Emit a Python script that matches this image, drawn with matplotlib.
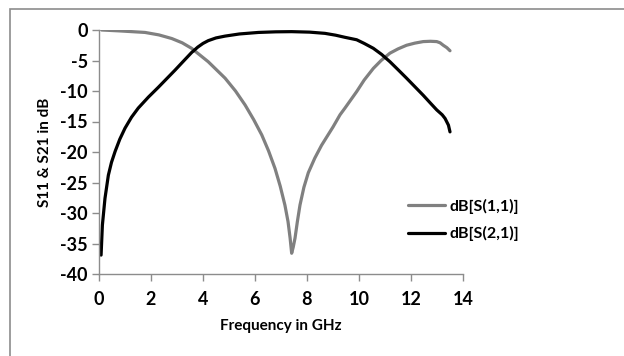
import matplotlib
matplotlib.use("Agg")
import matplotlib.pyplot as plt
from matplotlib.patches import Rectangle

# S11 (gray)
s11_freq = [0.1, 0.8, 1.77, 2.3, 2.8, 3.2, 3.56, 4.2, 4.85, 5.25, 5.62, 5.95, 6.26, 6.52, 6.77, 6.97, 7.15, 7.27, 7.35, 7.41,
            7.47, 7.54, 7.63, 7.73, 7.88, 8.05, 8.3, 8.56, 9.0, 9.27, 9.46, 9.91, 10.2, 10.55, 10.85, 11.19, 11.5, 11.83,
            12.15, 12.47, 12.75, 12.99, 13.12, 13.24, 13.38, 13.5]
s11_db = [0.0, -0.15, -0.4, -0.8, -1.4, -2.1, -3.0, -5.2, -7.9, -10.0, -12.3, -14.7, -17.2, -19.8, -22.7, -25.6, -28.7, -31.4, -34.1, -36.6,
          -35.6, -34.1, -31.4, -28.7, -25.8, -23.4, -21.0, -18.9, -15.9, -13.9, -12.8, -10.1, -8.2, -6.3, -5.0, -3.8, -3.1, -2.5,
          -2.15, -1.9, -1.85, -1.9, -2.1, -2.5, -2.9, -3.4]

# S21 (black)
s21_freq = [0.08, 0.13, 0.23, 0.36, 0.48, 0.62, 0.8, 1.0, 1.25, 1.51, 1.9, 2.28, 2.6, 2.92, 3.25, 3.56, 3.8, 4.0, 4.2, 4.5,
            4.85, 5.4, 6.13, 6.8, 7.41, 8.1, 8.69, 9.1, 9.46, 9.91, 10.2, 10.55, 10.87, 11.19, 11.5, 11.83, 12.15, 12.47,
            12.75, 12.99, 13.2, 13.31, 13.44, 13.5]
s21_db = [-36.9, -32.0, -27.6, -23.8, -21.7, -19.9, -17.9, -16.1, -14.3, -12.8, -11.0, -9.4, -8.0, -6.6, -5.1, -3.7, -2.8, -2.2, -1.75, -1.3,
          -1.0, -0.65, -0.4, -0.3, -0.27, -0.35, -0.55, -0.85, -1.2, -1.6, -2.2, -3.0, -4.0, -5.2, -6.5, -7.9, -9.3, -10.7,
          -12.0, -13.1, -13.9, -14.5, -15.6, -16.7]

x_ticks = [0, 2, 4, 6, 8, 10, 12, 14]
y_ticks = [0, -5, -10, -15, -20, -25, -30, -35, -40]

plt.rcParams['font.family'] = ['Lato', 'DejaVu Sans']
plt.rcParams['font.weight'] = 'bold'
plt.rcParams['axes.unicode_minus'] = False

fig = plt.figure(figsize=(6.24, 3.56), dpi=100)
fig.patches.append(Rectangle((10 / 624, -0.1), 1.2, 1 - 9 / 356 + 0.1, transform=fig.transFigure,
                             fill=False, edgecolor='#8c8c8c', linewidth=1.2))

ax = fig.add_axes([99 / 624, 1 - 274 / 356, (463 - 99) / 624, (274 - 30) / 356])
ax.plot(s11_freq, s11_db, color='#808080', linewidth=2.3, label='dB[S(1,1)]',
        solid_capstyle='round', solid_joinstyle='round')
ax.plot(s21_freq, s21_db, color='#000000', linewidth=2.3, label='dB[S(2,1)]',
        solid_capstyle='round', solid_joinstyle='round')

ax.set_xlim(0, 14)
ax.set_ylim(-40, 0)
ax.set_xticks(x_ticks)
ax.set_yticks(y_ticks)
for s in ['top', 'right']:
    ax.spines[s].set_visible(False)
for s in ['left', 'bottom']:
    ax.spines[s].set_color('#8c8c8c')
    ax.spines[s].set_linewidth(1.0)
ax.tick_params(axis='both', colors='#8c8c8c', labelcolor='black', labelsize=13, length=5, width=1.0, pad=3)
ax.tick_params(axis='x', pad=7)
ax.set_xlabel('Frequency in GHz', fontsize=11, fontweight='bold', labelpad=8)
ax.set_ylabel('S11 & S21 in dB', fontsize=11, fontweight='bold', labelpad=6)

ax.legend(loc='center left', bbox_to_anchor=(400 / 624, 1 - 220 / 356), bbox_transform=fig.transFigure,
          frameon=False, fontsize=11.5, handlelength=2.3, handletextpad=0.3, labelspacing=0.8, borderpad=0)

fig.savefig('out.png', dpi=100)
